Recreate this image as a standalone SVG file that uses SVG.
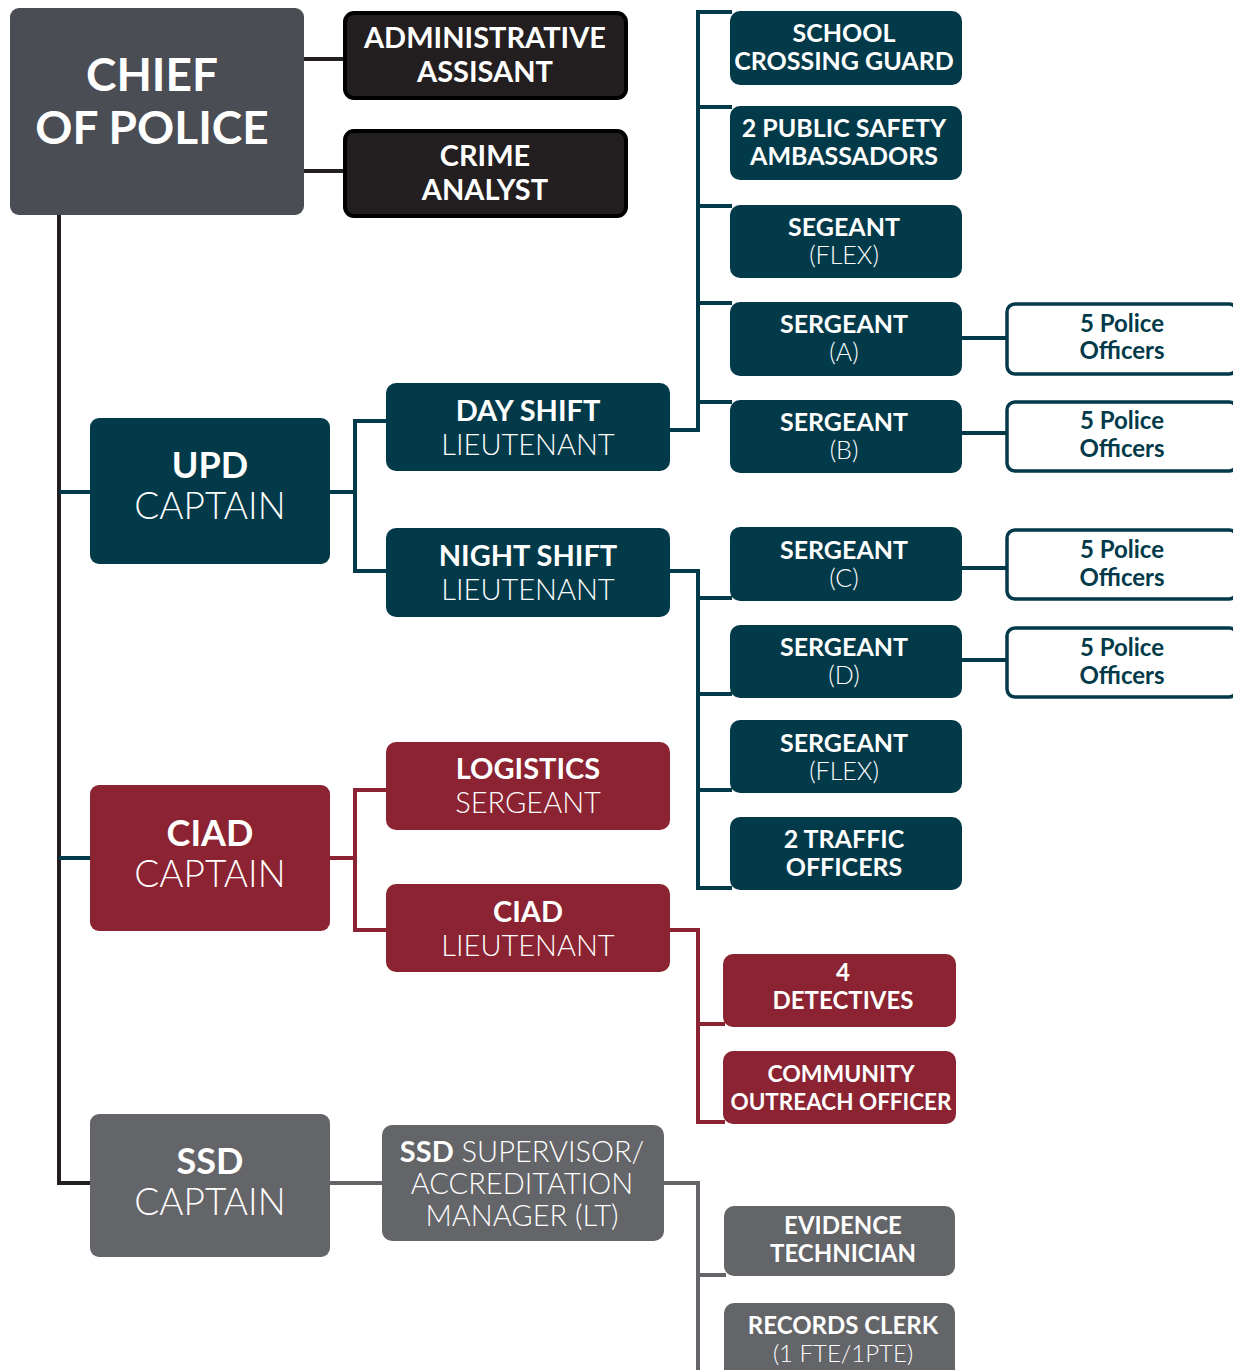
<svg xmlns="http://www.w3.org/2000/svg" width="1233" height="1370" viewBox="0 0 1233 1370">
  <style>
    text { font-family: Lato, "Open Sans", "Liberation Sans", sans-serif; text-anchor: middle; fill: #ffffff; }
    .b { font-weight: 700; }
    .l { font-weight: 300; }
    .teal { fill: #033a4a; }
    .maroon { fill: #8b2332; }
    .gray { fill: #646569; }
    .blk { fill: #231f20; stroke: #000000; stroke-width: 4; }
    .po { fill: #ffffff; stroke: #033a4a; stroke-width: 3.5; }
    .po-t { fill: #033a4a; font-weight: 700; }
    .ln { fill: none; stroke-width: 4; stroke-linejoin: miter; }
    .lk { stroke: #231f20; }
    .lt { stroke: #033a4a; }
    .lm { stroke: #8b2332; }
    .lg { stroke: #646569; }
  </style>

  <!-- connectors -->
  <g id="connectors">
    <!-- chief to staff and down the spine -->
    <path class="ln lk" d="M304 59 H345 M304 171 H345"/>
    <path class="ln lk" d="M59 213 V1183 H92"/>
    <path class="ln lt" d="M59 492 H92"/>
    <path class="ln lt" d="M59 858 H92"/>
    <!-- UPD captain to lieutenants -->
    <path class="ln lt" d="M330 492 H355 M386 421 H355 V571 H386"/>
    <!-- day shift branch -->
    <path class="ln lt" d="M670 430 H698 V12 H732 M698 107 H732 M698 206 H732 M698 303 H732 M698 402 H732"/>
    <!-- night shift branch -->
    <path class="ln lt" d="M670 571 H698 V888 H732 M698 598 H732 M698 694 H732 M698 790 H732"/>
    <!-- sergeants to officers -->
    <path class="ln lt" d="M960 338 H1008 M960 433 H1008 M960 568 H1008 M960 660 H1008"/>
    <!-- CIAD -->
    <path class="ln lm" d="M330 858 H355 M386 790 H355 V930 H386"/>
    <path class="ln lm" d="M670 930 H698 V1122 H725 M698 1024 H725"/>
    <!-- SSD -->
    <path class="ln lg" d="M330 1183 H384"/>
    <path class="ln lg" d="M664 1183 H698 V1370 M698 1275 H726"/>
  </g>

  <!-- command staff -->
  <g id="chief">
    <rect x="10" y="8" width="294" height="207" rx="9" fill="#4a4d54"/>
    <text class="b" x="152" y="91" font-size="46">CHIEF</text>
    <text class="b" x="152" y="144" font-size="46">OF POLICE</text>
  </g>
  <g id="admin-assistant">
    <rect class="blk" x="345" y="13" width="281" height="85" rx="9"/>
    <text class="b" x="485" y="48" font-size="29">ADMINISTRATIVE</text>
    <text class="b" x="485" y="82" font-size="29">ASSISANT</text>
  </g>
  <g id="crime-analyst">
    <rect class="blk" x="345" y="131" width="281" height="85" rx="9"/>
    <text class="b" x="485" y="166" font-size="29">CRIME</text>
    <text class="b" x="485" y="200" font-size="29">ANALYST</text>
  </g>

  <!-- UPD -->
  <g id="upd-captain">
    <rect class="teal" x="90" y="418" width="240" height="146" rx="9"/>
    <text class="b" x="210" y="478" font-size="36">UPD</text>
    <text class="l" x="210" y="519" font-size="37">CAPTAIN</text>
  </g>
  <g id="day-shift-lt">
    <rect class="teal" x="386" y="383" width="284" height="88" rx="10"/>
    <text class="b" x="528" y="421" font-size="29">DAY SHIFT</text>
    <text class="l" x="528" y="455" font-size="29">LIEUTENANT</text>
  </g>
  <g id="night-shift-lt">
    <rect class="teal" x="386" y="528" width="284" height="89" rx="10"/>
    <text class="b" x="528" y="566" font-size="29">NIGHT SHIFT</text>
    <text class="l" x="528" y="600" font-size="29">LIEUTENANT</text>
  </g>

  <g id="school-crossing-guard">
    <rect class="teal" x="730" y="11" width="232" height="74" rx="10"/>
    <text class="b" x="844" y="42" font-size="25">SCHOOL</text>
    <text class="b" x="844" y="70" font-size="25">CROSSING GUARD</text>
  </g>
  <g id="public-safety-ambassadors">
    <rect class="teal" x="730" y="106" width="232" height="74" rx="10"/>
    <text class="b" x="844" y="137" font-size="25">2 PUBLIC SAFETY</text>
    <text class="b" x="844" y="165" font-size="25">AMBASSADORS</text>
  </g>
  <g id="sergeant-flex-day">
    <rect class="teal" x="730" y="205" width="232" height="73" rx="10"/>
    <text class="b" x="844" y="236" font-size="25">SEGEANT</text>
    <text class="l" x="844" y="264" font-size="25">(FLEX)</text>
  </g>
  <g id="sergeant-a">
    <rect class="teal" x="730" y="302" width="232" height="74" rx="10"/>
    <text class="b" x="844" y="333" font-size="25">SERGEANT</text>
    <text class="l" x="844" y="361" font-size="25">(A)</text>
  </g>
  <g id="sergeant-b">
    <rect class="teal" x="730" y="400" width="232" height="73" rx="10"/>
    <text class="b" x="844" y="431" font-size="25">SERGEANT</text>
    <text class="l" x="844" y="459" font-size="25">(B)</text>
  </g>
  <g id="sergeant-c">
    <rect class="teal" x="730" y="527" width="232" height="74" rx="10"/>
    <text class="b" x="844" y="559" font-size="25">SERGEANT</text>
    <text class="l" x="844" y="587" font-size="25">(C)</text>
  </g>
  <g id="sergeant-d">
    <rect class="teal" x="730" y="625" width="232" height="73" rx="10"/>
    <text class="b" x="844" y="656" font-size="25">SERGEANT</text>
    <text class="l" x="844" y="684" font-size="25">(D)</text>
  </g>
  <g id="sergeant-flex-night">
    <rect class="teal" x="730" y="720" width="232" height="73" rx="10"/>
    <text class="b" x="844" y="752" font-size="25">SERGEANT</text>
    <text class="l" x="844" y="780" font-size="25">(FLEX)</text>
  </g>
  <g id="traffic-officers">
    <rect class="teal" x="730" y="817" width="232" height="73" rx="10"/>
    <text class="b" x="844" y="848" font-size="25">2 TRAFFIC</text>
    <text class="b" x="844" y="876" font-size="25">OFFICERS</text>
  </g>

  <g id="officers-a">
    <rect class="po" x="1007" y="304" width="230" height="70" rx="8"/>
    <text class="po-t" x="1122" y="332" font-size="24">5 Police</text>
    <text class="po-t" x="1122" y="359" font-size="24">Officers</text>
  </g>
  <g id="officers-b">
    <rect class="po" x="1007" y="402" width="230" height="69" rx="8"/>
    <text class="po-t" x="1122" y="429" font-size="24">5 Police</text>
    <text class="po-t" x="1122" y="457" font-size="24">Officers</text>
  </g>
  <g id="officers-c">
    <rect class="po" x="1007" y="530" width="230" height="69" rx="8"/>
    <text class="po-t" x="1122" y="558" font-size="24">5 Police</text>
    <text class="po-t" x="1122" y="586" font-size="24">Officers</text>
  </g>
  <g id="officers-d">
    <rect class="po" x="1007" y="628" width="230" height="69" rx="8"/>
    <text class="po-t" x="1122" y="656" font-size="24">5 Police</text>
    <text class="po-t" x="1122" y="684" font-size="24">Officers</text>
  </g>

  <!-- CIAD -->
  <g id="ciad-captain">
    <rect class="maroon" x="90" y="785" width="240" height="146" rx="9"/>
    <text class="b" x="210" y="846" font-size="36">CIAD</text>
    <text class="l" x="210" y="887" font-size="37">CAPTAIN</text>
  </g>
  <g id="logistics-sergeant">
    <rect class="maroon" x="386" y="742" width="284" height="88" rx="10"/>
    <text class="b" x="528" y="779" font-size="29">LOGISTICS</text>
    <text class="l" x="528" y="813" font-size="29">SERGEANT</text>
  </g>
  <g id="ciad-lt">
    <rect class="maroon" x="386" y="884" width="284" height="88" rx="10"/>
    <text class="b" x="528" y="922" font-size="29">CIAD</text>
    <text class="l" x="528" y="956" font-size="29">LIEUTENANT</text>
  </g>
  <g id="detectives">
    <rect class="maroon" x="723" y="954" width="233" height="73" rx="10"/>
    <text class="b" x="843" y="981" font-size="24">4</text>
    <text class="b" x="843" y="1009" font-size="24">DETECTIVES</text>
  </g>
  <g id="community-outreach">
    <rect class="maroon" x="723" y="1051" width="233" height="73" rx="10"/>
    <text class="b" x="841" y="1082" font-size="23">COMMUNITY</text>
    <text class="b" x="841" y="1110" font-size="23" textLength="221" lengthAdjust="spacingAndGlyphs">OUTREACH OFFICER</text>
  </g>

  <!-- SSD -->
  <g id="ssd-captain">
    <rect class="gray" x="90" y="1114" width="240" height="143" rx="9"/>
    <text class="b" x="210" y="1174" font-size="36">SSD</text>
    <text class="l" x="210" y="1215" font-size="37">CAPTAIN</text>
  </g>
  <g id="ssd-supervisor">
    <rect class="gray" x="382" y="1125" width="282" height="116" rx="10"/>
    <text x="522" y="1162" font-size="29"><tspan class="b">SSD</tspan><tspan class="l"> SUPERVISOR/</tspan></text>
    <text class="l" x="522" y="1194" font-size="29">ACCREDITATION</text>
    <text class="l" x="522" y="1226" font-size="29">MANAGER (LT)</text>
  </g>
  <g id="evidence-technician">
    <rect class="gray" x="724" y="1206" width="231" height="70" rx="10"/>
    <text class="b" x="843" y="1234" font-size="24">EVIDENCE</text>
    <text class="b" x="843" y="1262" font-size="24">TECHNICIAN</text>
  </g>
  <g id="records-clerk">
    <rect class="gray" x="724" y="1303" width="231" height="80" rx="10"/>
    <text class="b" x="843" y="1334" font-size="24">RECORDS CLERK</text>
    <text class="l" x="843" y="1362" font-size="24">(1 FTE/1PTE)</text>
  </g>
</svg>
